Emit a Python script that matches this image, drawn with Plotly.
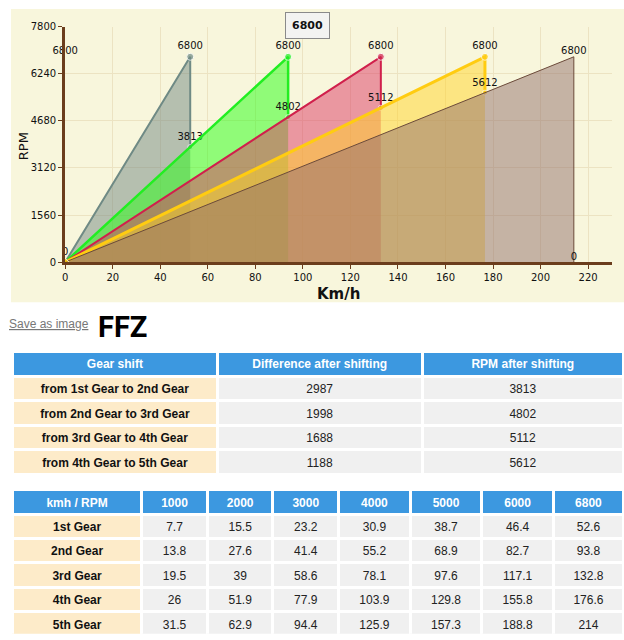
import plotly.graph_objects as go

W, H = 624, 640

# ---------------- data ----------------
gears = ["1st Gear", "2nd Gear", "3rd Gear", "4th Gear", "5th Gear"]
max_rpm = 6800
speed_at_max = [52.6, 93.8, 132.8, 176.6, 214]
rpm_after_shift = [3813, 4802, 5112, 5612, 0]
extra_label_x = [0, 0]
extra_label_y = [0, 6800]
extra_label_text = ["0", "6800"]
tooltip_gear = 1  # index of gear whose peak shows the tooltip

x_ticks = [0, 20, 40, 60, 80, 100, 120, 140, 160, 180, 200, 220]
y_ticks = [0, 1560, 3120, 4680, 6240, 7800]

shift_names = ["from 1st Gear to 2nd Gear", "from 2nd Gear to 3rd Gear",
               "from 3rd Gear to 4th Gear", "from 4th Gear to 5th Gear"]
shift_diff = [2987, 1998, 1688, 1188]
shift_rpm = [3813, 4802, 5112, 5612]
shift_headers = ["Gear shift", "Difference after shifting", "RPM after shifting"]

rpm_columns = [1000, 2000, 3000, 4000, 5000, 6000, 6800]
speed_corner = "kmh / RPM"
speed_1st = [7.7, 15.5, 23.2, 30.9, 38.7, 46.4, 52.6]
speed_2nd = [13.8, 27.6, 41.4, 55.2, 68.9, 82.7, 93.8]
speed_3rd = [19.5, 39, 58.6, 78.1, 97.6, 117.1, 132.8]
speed_4th = [26, 51.9, 77.9, 103.9, 129.8, 155.8, 176.6]
speed_5th = [31.5, 62.9, 94.4, 125.9, 157.3, 188.8, 214]
speed_rows = [speed_1st, speed_2nd, speed_3rd, speed_4th, speed_5th]

# ---------------- styles ----------------
line_colors = ["#6f8a85", "#22ee22", "#d0204c", "#ffcc11", "#6b4a3a"]
fill_colors = ["rgba(113,135,130,0.5)", "rgba(40,255,20,0.5)",
               "rgba(219,55,100,0.5)", "rgba(255,212,40,0.5)",
               "rgba(145,112,108,0.5)"]
line_widths = [2, 2.5, 2, 3, 1]
AXIS = "#6b3d1c"
GRID = "#ece3c2"
CREAM = "#f8f6dc"
BLUE = "#3c98e0"
CELL_CREAM = "#fdebc9"
CELL_GRAY = "#f0f0f0"
TXT_FONT = "Liberation Sans"
CH_FONT = "DejaVu Sans"
NBSP = "\u00a0"


def px(x):
    return x / W


def py(y):
    return 1 - y / H


def plain(s):
    # non-breaking spaces keep plotly table rows at their declared height
    return str(s).replace(" ", NBSP)


fig = go.Figure()

for i, g in enumerate(gears):
    v = speed_at_max[i]
    after = rpm_after_shift[i]
    last = i == len(gears) - 1
    fig.add_trace(go.Scatter(
        x=[0, v, v], y=[0, max_rpm, after], name=g,
        mode="lines+markers+text",
        text=["", str(max_rpm), str(after)],
        textposition="top center",
        textfont=dict(family=CH_FONT, size=10, color="#111"),
        fill="tozeroy", fillcolor=fill_colors[i],
        line=dict(color=line_colors[i], width=line_widths[i]),
        marker=dict(size=[0, 0, 0] if last else [0, 7, 5], color=line_colors[i]),
        cliponaxis=False, hoverinfo="skip", showlegend=False,
    ))

fig.add_trace(go.Scatter(
    x=extra_label_x, y=extra_label_y, mode="markers+text",
    text=extra_label_text, textposition="top center",
    textfont=dict(family=CH_FONT, size=10, color="#111"),
    marker=dict(size=[6, 0], symbol="diamond", color=line_colors[3]),
    cliponaxis=False, hoverinfo="skip", showlegend=False,
))

# ---------------- tables ----------------
line_white = dict(color="white", width=3)

fig.add_trace(go.Table(
    domain=dict(x=[px(9.5), 1], y=[py(482), py(351.8)]),
    columnwidth=[206, 206, 202.5],
    header=dict(
        values=[plain(h) for h in shift_headers],
        fill_color=BLUE, line=line_white, align="center", height=25,
        font=dict(family=TXT_FONT, size=12, color="white", weight="bold"),
    ),
    cells=dict(
        values=[[plain(s) for s in shift_names],
                [str(d) for d in shift_diff],
                [str(r) for r in shift_rpm]],
        fill_color=[[CELL_CREAM] * 4, [CELL_GRAY] * 4, [CELL_GRAY] * 4],
        line=line_white, align="center", height=24.5,
        font=dict(family=TXT_FONT, size=12, color=["#111", "#222", "#222"],
                  weight=["bold", "normal", "normal"]),
    ),
))

speed_cols = [[("%g" % row[j]) for row in speed_rows] for j in range(len(rpm_columns))]
fig.add_trace(go.Table(
    domain=dict(x=[px(9.5), 1], y=[0, py(493)]),
    columnwidth=[130, 66, 66, 66, 72, 72, 72, 70.5],
    header=dict(
        values=[plain(speed_corner)] + [str(r) for r in rpm_columns],
        fill_color=BLUE, line=line_white, align="center", height=24.3,
        font=dict(family=TXT_FONT, size=12, color="white", weight="bold"),
    ),
    cells=dict(
        values=[[plain(g) for g in gears]] + speed_cols,
        fill_color=[[CELL_CREAM] * 5] + [[CELL_GRAY] * 5] * len(rpm_columns),
        line=line_white, align="center", height=24.4,
        font=dict(family=TXT_FONT, size=12,
                  color=["#111"] + ["#222"] * len(rpm_columns),
                  weight=["bold"] + ["normal"] * len(rpm_columns)),
    ),
))

# ---------------- layout ----------------
annotations = [
    dict(x=px(20), y=py(143), xref="paper", yref="paper", text="RPM",
         xanchor="center", yanchor="middle",
         textangle=-90, showarrow=False,
         font=dict(family=CH_FONT, size=13, color="#111")),
    dict(x=px(337), y=py(293), xref="paper", yref="paper", text="<b>Km/h</b>",
         xanchor="center", yanchor="middle",
         showarrow=False, font=dict(family=CH_FONT, size=15, color="#111")),
    dict(x=speed_at_max[tooltip_gear], y=max_rpm, xref="x", yref="y",
         text="<b>%d</b>" % max_rpm, showarrow=True, ax=19, ay=-31,
         arrowcolor="rgba(0,0,0,0)", bgcolor="#f3f3f1", bordercolor="#8a8a8a",
         borderwidth=1, borderpad=6,
         font=dict(family=CH_FONT, size=11, color="#111")),
    dict(x=px(4), y=py(324), xref="paper", yref="paper", xanchor="left",
         yanchor="middle",
         text="<u>Save as image</u>", showarrow=False,
         font=dict(family=TXT_FONT, size=12, color="#777")),
    dict(x=px(93), y=py(327), xref="paper", yref="paper", xanchor="left",
         yanchor="middle",
         text="<b>FFZ</b>", showarrow=False,
         font=dict(family="Roboto", size=29, color="#000")),
]

fig.update_layout(
    width=W, height=H, margin=dict(l=0, r=0, t=0, b=0),
    paper_bgcolor="white", plot_bgcolor="rgba(0,0,0,0)",
    showlegend=False,
    shapes=[dict(type="rect", xref="paper", yref="paper",
                 x0=px(8), x1=1, y0=py(302), y1=py(3),
                 fillcolor=CREAM, line=dict(width=0), layer="below")],
    xaxis=dict(
        domain=[px(62.5), px(611.8)], range=[0, 230], tickvals=x_ticks,
        showgrid=True, gridcolor=GRID, gridwidth=1, zeroline=False,
        showline=True, linecolor=AXIS, linewidth=3,
        ticks="outside", ticklen=4, tickcolor=AXIS, tickwidth=1,
        tickfont=dict(family=CH_FONT, size=10, color="#111"),
        fixedrange=True, anchor="y",
    ),
    yaxis=dict(
        domain=[py(261), py(21)], range=[0, 7800], tickvals=y_ticks,
        showgrid=True, gridcolor=GRID, gridwidth=1, zeroline=False,
        showline=True, linecolor=AXIS, linewidth=3,
        ticks="outside", ticklen=4, tickcolor=AXIS, tickwidth=1,
        tickfont=dict(family=CH_FONT, size=10, color="#111"),
        fixedrange=True, anchor="x",
    ),
    annotations=annotations,
)

fig.write_html("out.html")
